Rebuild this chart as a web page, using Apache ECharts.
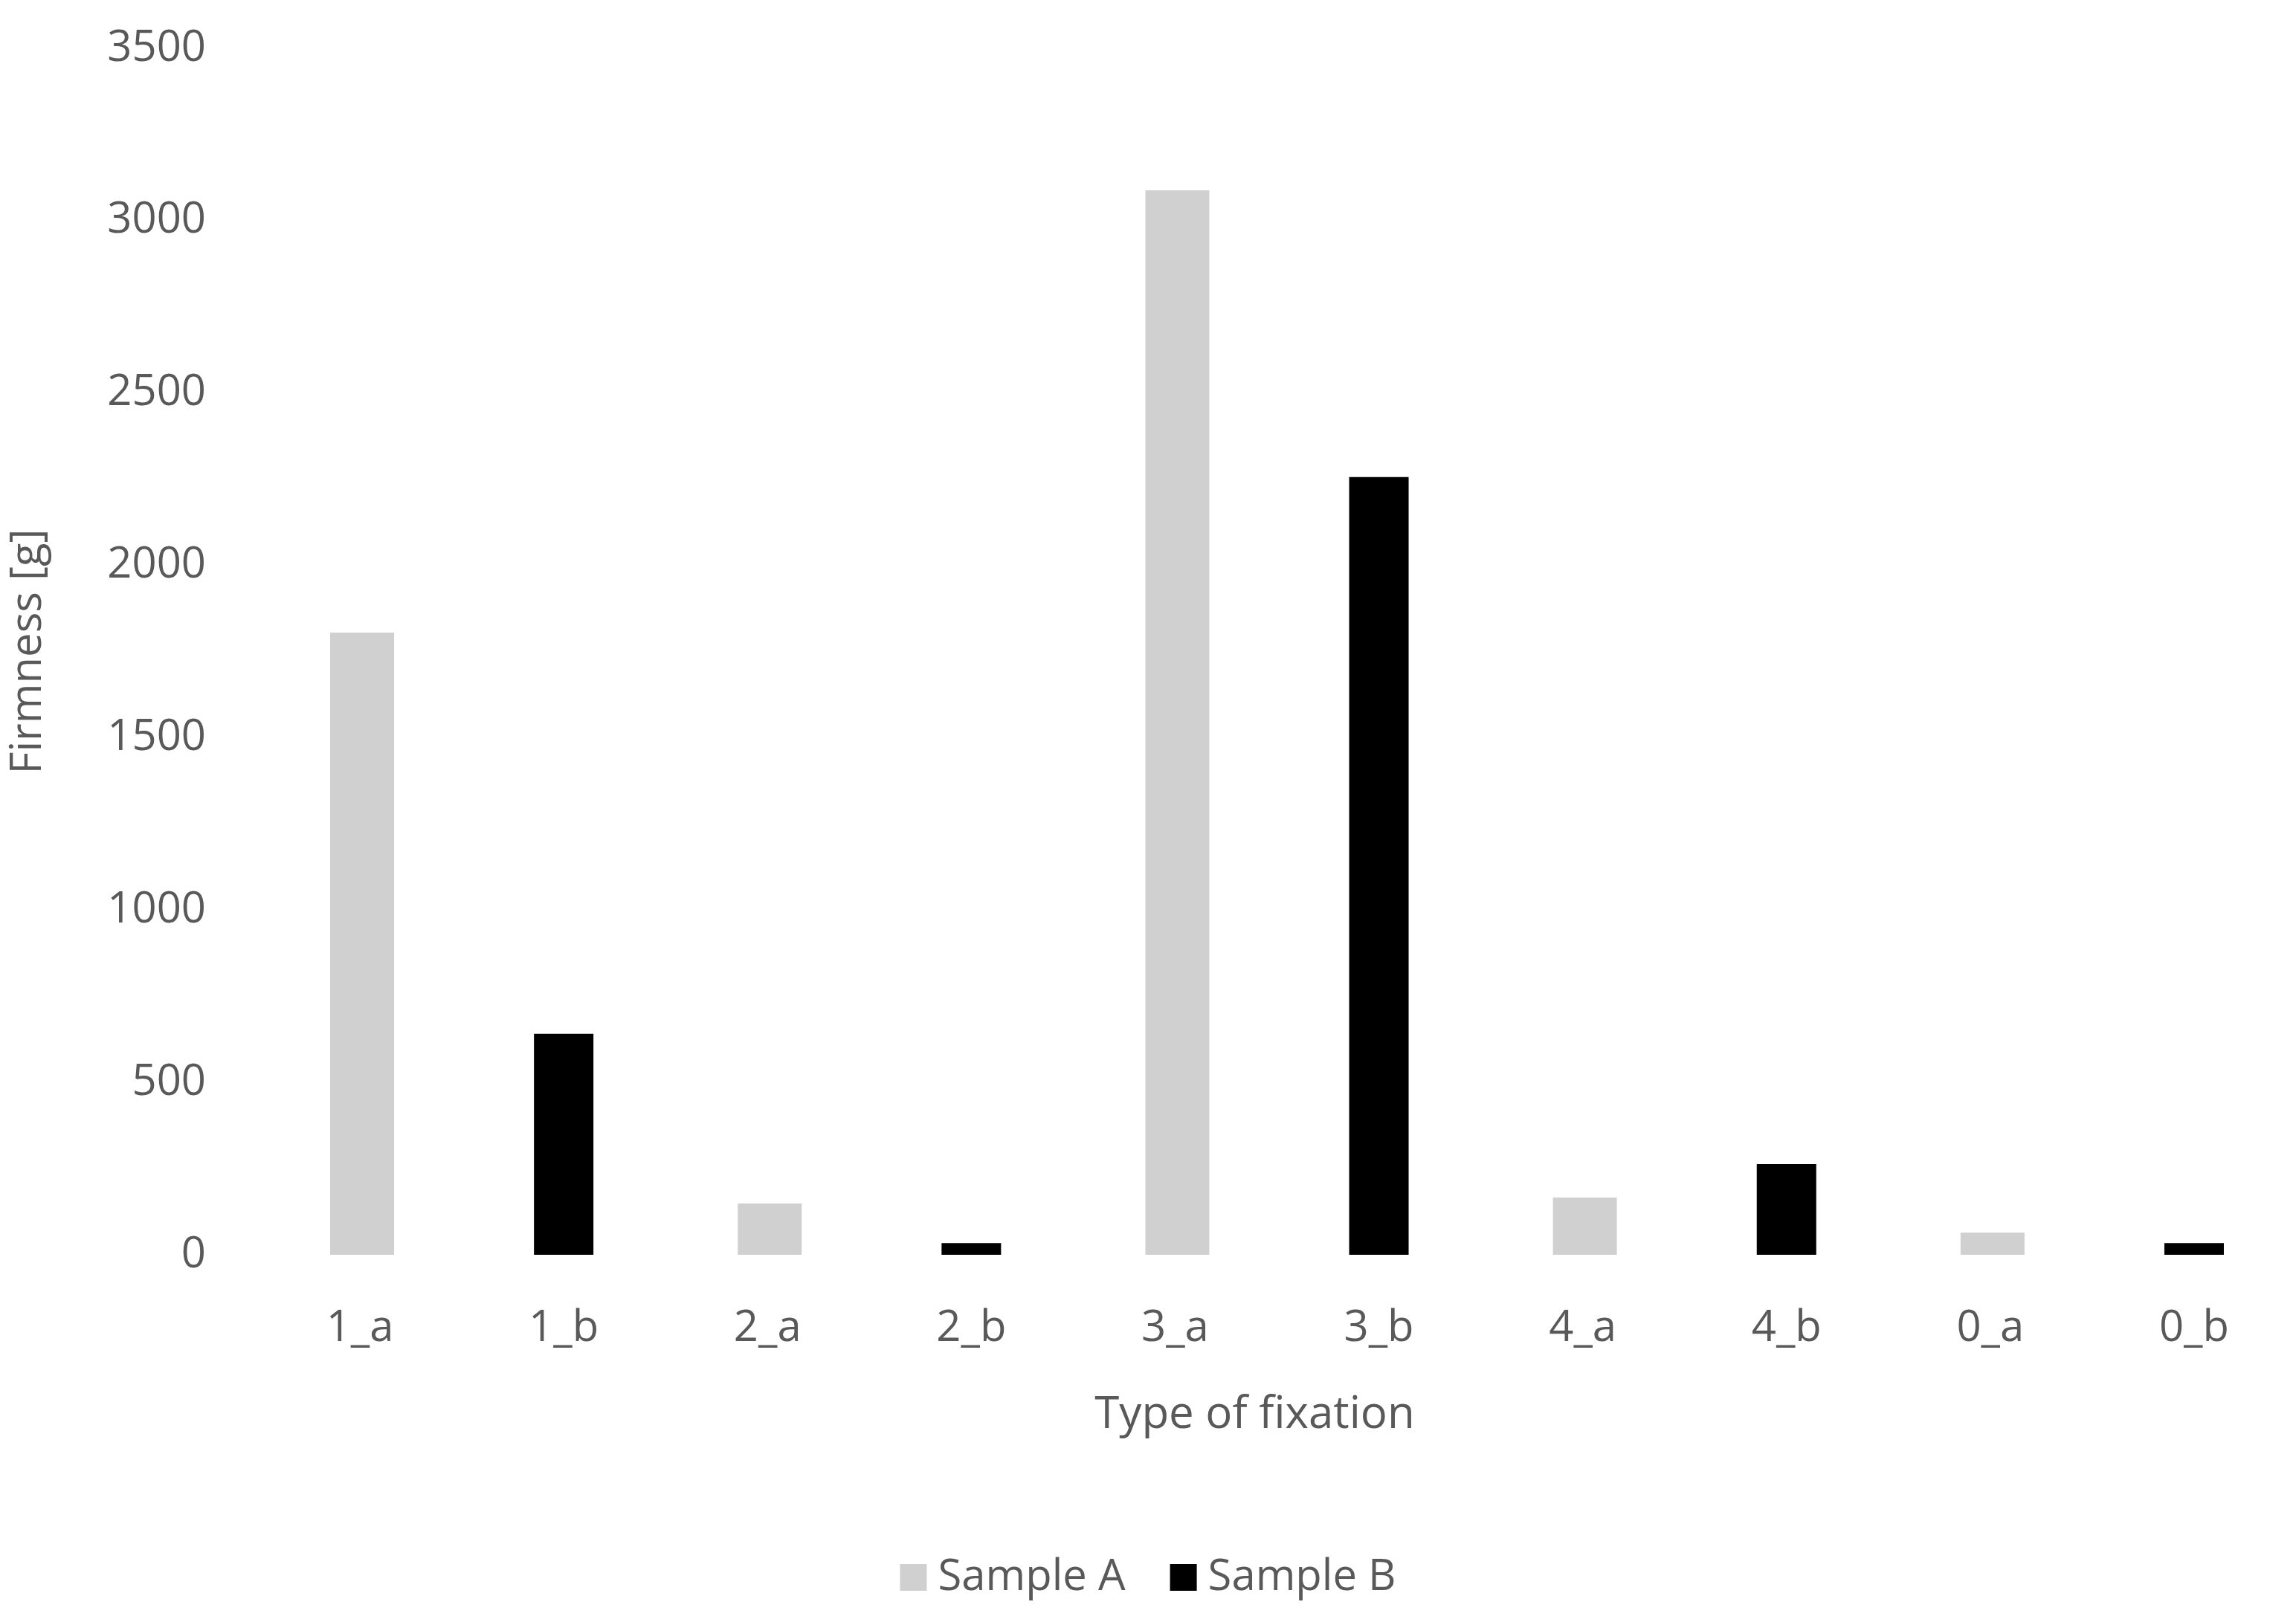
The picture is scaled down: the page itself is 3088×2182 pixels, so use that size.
<!DOCTYPE html><html><head><meta charset="utf-8">
<script src="https://cdn.jsdelivr.net/npm/echarts@6/dist/echarts.min.js"></script>
<style>html,body{margin:0;padding:0;background:#fff}#c{width:3088px;height:2182px}</style></head><body><div id="c"></div>
<script>
const categories=['1_a','1_b','2_a','2_b','3_a','3_b','4_a','4_b','0_a','0_b'];
const sampleA=[1805,null,149,null,3088,null,166,null,64,null];
const sampleB=[null,641,null,34,null,2256,null,263,null,34];
const yTicks=[0,500,1000,1500,2000,2500,3000,3500];
const F='"Open Sans", sans-serif', C='#595959';
const ch=echarts.init(document.getElementById('c'));
ch.setOption({
 animation:false,
 grid:{left:347,right:-92,top:65,bottom:494},
 legend:{bottom:26,left:'center',itemWidth:36,itemHeight:36,itemGap:60,icon:'rect',textStyle:{fontFamily:F,fontSize:58,color:C,padding:[0,0,0,10]},data:['Sample A','Sample B']},
 xAxis:{type:'category',data:categories,axisLine:{show:false},axisTick:{show:false},
  axisLabel:{fontFamily:F,fontSize:58,color:C,margin:70},
  name:'Type of fixation',nameLocation:'middle',nameGap:186,nameTextStyle:{fontFamily:F,fontSize:60,color:C,padding:[0,60,0,0]}},
 yAxis:{type:'value',min:yTicks[0],max:yTicks[yTicks.length-1],interval:500,splitLine:{show:false},
  axisLabel:{fontFamily:F,fontSize:58,color:C,margin:70,formatter:v=>String(v)},
  name:'Firmness [g]',nameLocation:'middle',nameGap:280,nameTextStyle:{fontFamily:F,fontSize:58,color:C}},
 series:[
  {name:'Sample A',type:'bar',data:sampleA,barWidth:86,barGap:'-100%',itemStyle:{color:'#d0d0d0'}},
  {name:'Sample B',type:'bar',data:sampleB,barWidth:80,itemStyle:{color:'#000000'}}
 ]
});
</script></body></html>
